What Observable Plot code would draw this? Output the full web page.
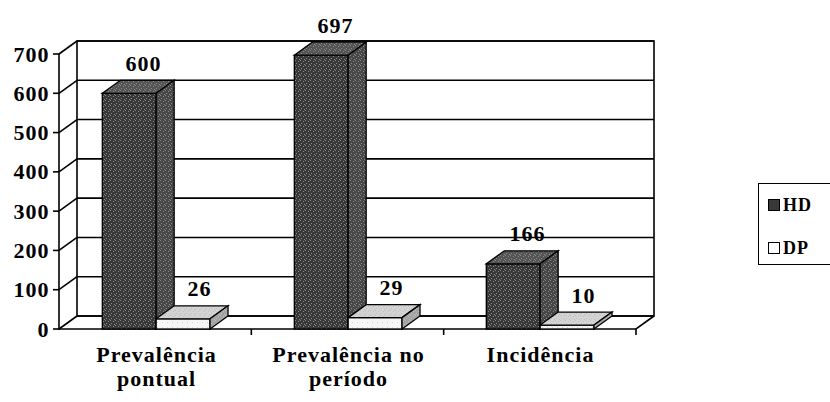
<!DOCTYPE html>
<html>
<head>
<meta charset="utf-8">
<script src="https://cdn.jsdelivr.net/npm/d3@7"></script>
<script src="https://cdn.jsdelivr.net/npm/@observablehq/plot@0.6"></script>
<style>
  html, body { margin: 0; padding: 0; background: #fff; }
  #wrap { position: relative; width: 830px; height: 402px; overflow: hidden; }
  #wrap svg text { font-family: "Liberation Serif", "Times New Roman", serif; letter-spacing: 1px; }
  #legend {
    position: absolute; left: 758px; top: 183px; width: 80px; height: 82px;
    border: 1.5px solid #000; box-sizing: border-box; background: #fff;
    font-family: "Liberation Serif", serif; font-weight: bold; font-size: 18px; letter-spacing: 1px;
  }
  .item { position: absolute; left: 9px; display: flex; align-items: center; gap: 3px; line-height: 1; }
  .sw { width: 12px; height: 12px; border: 1px solid #000; box-sizing: border-box; }
</style>
</head>
<body>
<div id="wrap"></div>
<script>
// ---- data ----
const categories = ["Prevalência pontual", "Prevalência no período", "Incidência"];
const categoryLabels = ["Prevalência\npontual", "Prevalência no\nperíodo", "Incidência"];
const seriesNames = ["HD", "DP"];
const hdValues = [600, 697, 166];
const dpValues = [26, 29, 10];
const yTicks = [0, 100, 200, 300, 400, 500, 600, 700];

// ---- styling ----
const DX = 18, DY = -13;          // 3D depth offset (px)
const colors = {
  HD: {front: "#383838", top: "#555555", side: "#474747", speck: "#8a8a8a"},
  DP: {front: "#f6f6f6", top: "#d4d4d4", side: "#a3a3a3", speck: "#bdbdbd"}
};
const serif = '"Liberation Serif", "Times New Roman", serif';

const rows = categories.flatMap((c, i) => [
  {cat: c, s: seriesNames[0], v: hdValues[i]},
  {cat: c, s: seriesNames[1], v: dpValues[i]}
]);
const labelOf = new Map(categories.map((c, i) => [c, categoryLabels[i]]));

const W = 830, H = 402;
const mL = 59, mR = 194, mT = 54, mB = 73;
const bw = (W - mL - mR) / categories.length;
const barW = bw * 0.28;

function scene(index, scales, values, dims) {
  const {width, marginLeft, marginRight} = dims;
  const x0 = marginLeft, x1 = width - marginRight;
  const band = (x1 - x0) / categories.length;
  const yS = scales.y, xS = scales.x;
  const y0 = yS(0), yTop = yS(yTicks[yTicks.length - 1]);
  const g = d3.create("svg:g").attr("stroke", "#000").attr("stroke-width", 1.6).attr("fill", "none");
  // stipple patterns (scan-like texture)
  const defs = g.append("defs");
  for (const s of seriesNames) {
    for (const face of ["front", "top", "side"]) {
      const p = defs.append("pattern").attr("id", `pat-${s}-${face}`)
        .attr("patternUnits", "userSpaceOnUse").attr("width", 5).attr("height", 5);
      p.append("rect").attr("width", 5).attr("height", 5).attr("fill", colors[s][face]).attr("stroke", "none");
      if (!(s === "DP" && face === "front")) {
        for (const [px, py] of [[0, 0], [3, 1], [1, 3], [4, 4]]) {
          p.append("rect").attr("x", px).attr("y", py).attr("width", 1).attr("height", 1)
            .attr("fill", colors[s].speck).attr("stroke", "none");
        }
      } else {
        p.append("rect").attr("x", 2).attr("y", 2).attr("width", 1).attr("height", 1)
          .attr("fill", "#d6d6d6").attr("stroke", "none");
      }
    }
  }
  // back wall
  g.append("rect").attr("x", x0 + DX).attr("y", yTop + DY)
    .attr("width", x1 - x0).attr("height", y0 - yTop).attr("fill", "#fff");
  // gridlines on back wall
  for (const t of yTicks) {
    g.append("line").attr("x1", x0 + DX).attr("x2", x1 + DX)
      .attr("y1", yS(t) + DY).attr("y2", yS(t) + DY);
  }
  // left wall slants
  for (const t of yTicks) {
    g.append("line").attr("x1", x0).attr("y1", yS(t)).attr("x2", x0 + DX).attr("y2", yS(t) + DY);
  }
  // floor front + right diagonal
  g.append("path").attr("d", `M${x0},${y0}L${x1},${y0}L${x1 + DX},${y0 + DY}`);
  // front y axis line and ticks
  g.append("line").attr("x1", x0).attr("x2", x0).attr("y1", yTop).attr("y2", y0 + 1);
  for (const t of yTicks) {
    g.append("line").attr("x1", x0 - 6).attr("x2", x0).attr("y1", yS(t)).attr("y2", yS(t));
  }
  // x ticks at band boundaries
  for (let i = 1; i <= categories.length; i++) {
    g.append("line").attr("x1", x0 + i * band).attr("x2", x0 + i * band).attr("y1", y0).attr("y2", y0 + 6);
  }
  // bars
  const bars = g.append("g").attr("stroke-width", 1.3);
  for (const d of rows) {
    const cx = xS(d.cat) + band / 2;
    const xl = d.s === "HD" ? cx - barW : cx;
    const xr = xl + barW;
    const yt = yS(d.v);
    bars.append("rect").attr("x", xl).attr("y", yt).attr("width", barW).attr("height", y0 - yt)
      .attr("fill", `url(#pat-${d.s}-front)`);
    bars.append("path").attr("fill", `url(#pat-${d.s}-top)`)
      .attr("d", `M${xl},${yt}L${xl + DX},${yt + DY}L${xr + DX},${yt + DY}L${xr},${yt}Z`);
    bars.append("path").attr("fill", `url(#pat-${d.s}-side)`)
      .attr("d", `M${xr},${yt}L${xr + DX},${yt + DY}L${xr + DX},${y0 + DY}L${xr},${y0}Z`);
  }
  return g.node();
}

const chart = Plot.plot({
  width: W, height: H,
  marginLeft: mL, marginRight: mR, marginTop: mT, marginBottom: mB,
  style: {fontFamily: serif, fontWeight: "bold", fontSize: "22px", color: "#000", background: "#fff"},
  x: {type: "band", domain: categories, padding: 0, label: null},
  y: {domain: [0, 700], label: null},
  marks: [
    scene,
    Plot.axisY({ticks: yTicks, tickSize: 0, tickPadding: 10, fontSize: 22, fontWeight: "bold",
      fontFamily: serif, label: null}),
    Plot.axisX({tickSize: 0, tickPadding: 15, fontSize: 22, fontWeight: "bold", fontFamily: serif,
      label: null, tickFormat: d => labelOf.get(d), lineHeight: 1.1}),
    Plot.text(rows.filter(d => d.s === "HD"), {x: "cat", y: "v", text: d => String(d.v),
      dx: -barW / 2 + 14, dy: -23, lineAnchor: "bottom", fontSize: 22, fontWeight: "bold", fontFamily: serif}),
    Plot.text(rows.filter(d => d.s === "DP"), {x: "cat", y: "v", text: d => String(d.v),
      dx: barW / 2 + 16, dy: -23, lineAnchor: "bottom", fontSize: 22, fontWeight: "bold", fontFamily: serif})
  ]
});

const wrap = document.getElementById("wrap");
wrap.appendChild(chart);

const legend = document.createElement("div");
legend.id = "legend";
seriesNames.forEach((s, i) => {
  const it = document.createElement("div");
  it.className = "item";
  it.style.top = (i === 0 ? 12 : 55) + "px";
  const sw = document.createElement("span");
  sw.className = "sw";
  sw.style.background = s === "DP" ? "#fff" : colors[s].front;
  const tx = document.createElement("span");
  tx.textContent = s;
  it.appendChild(sw); it.appendChild(tx);
  legend.appendChild(it);
});
wrap.appendChild(legend);
</script>
</body>
</html>
